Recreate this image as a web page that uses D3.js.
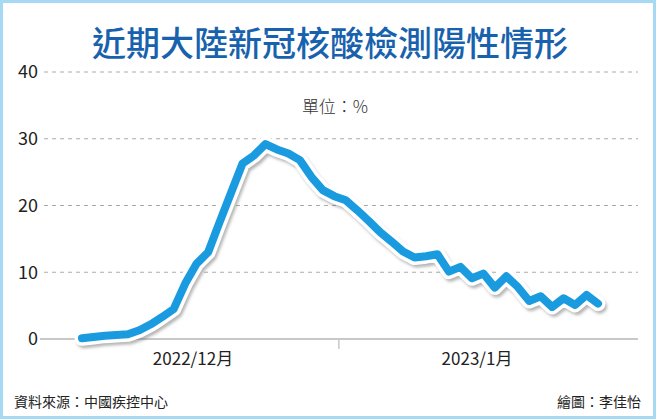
<!DOCTYPE html>
<html><head><meta charset="utf-8">
<script src="https://cdn.jsdelivr.net/npm/d3@7"></script>
<style>
html,body{margin:0;padding:0;background:#fff;}
svg{display:block;}
text{font-family:"Noto Sans CJK TC","Noto Sans",sans-serif;}
</style></head>
<body>
<svg id="chart" width="656" height="419"></svg>
<script>
const title = "近期大陸新冠核酸檢測陽性情形";
const unitLabel = "單位：%";
const sourceLabel = "資料來源：中國疾控中心";
const creditLabel = "繪圖：李佳怡";
const startDate = "2022-12-09";
const positiveRate = [0.1,0.3,0.5,0.6,0.7,1.3,2.2,3.3,4.5,8.3,11.3,13.0,17.5,21.9,26.3,27.5,29.2,28.4,27.8,26.8,24.3,22.3,21.4,20.8,19.3,17.7,16.0,14.6,13.1,12.2,12.4,12.7,10.1,10.8,9.1,9.8,7.7,9.4,7.8,5.7,6.4,4.8,6.1,5.1,6.6,5.3];
const yTicks = [0,10,20,30,40];
const monthTicks = ["2022-12-01","2023-01-01","2023-02-01"];
const monthLabels = [{label:"2022/12月", from:"2022-12-01"}, {label:"2023/1月", from:"2023-01-01"}];

const parse = d3.timeParse("%Y-%m-%d");
const t0 = parse(startDate);
const data = positiveRate.map((v,i)=>({date:d3.timeDay.offset(t0,i), value:v}));

const svg = d3.select("#chart");
const W=656,H=419;
svg.append("rect").attr("x",1.5).attr("y",1.5).attr("width",W-3).attr("height",H-3)
  .attr("fill","#fff").attr("stroke","#a6d9f3").attr("stroke-width",3);

const x = d3.scaleTime().domain([t0, d3.timeDay.offset(t0, positiveRate.length-1)]).range([82, 598]);
const y = d3.scaleLinear().domain([0,40]).range([339,72]);

svg.append("text").attr("x",330).attr("y",56).attr("text-anchor","middle")
  .attr("fill","#1862ad").attr("font-size",34).attr("font-weight",500).text(title);

// grid
const grid = svg.append("g");
grid.selectAll("line").data(yTicks.filter(d=>d>0)).join("line")
  .attr("x1",44).attr("x2",638).attr("y1",d=>y(d)).attr("y2",d=>y(d))
  .attr("stroke","#aaaaaa").attr("stroke-width",1).attr("stroke-dasharray","4,4");

// y axis labels
const yAxis = d3.axisLeft(y).tickValues(yTicks).tickSize(0).tickPadding(0).tickFormat(d3.format("d"));
const yg = svg.append("g").attr("transform","translate(38,0)").call(yAxis);
yg.select(".domain").remove();
yg.selectAll("text").attr("font-size",18).attr("fill","#222").attr("font-family","Roboto,'Noto Sans',sans-serif");

// x axis
svg.append("line").attr("x1",40).attr("x2",638).attr("y1",y(0)).attr("y2",y(0))
  .attr("stroke","#c8c8c8").attr("stroke-width",2);
const jan = parse(monthTicks[1]);
const tickX = x(jan) - 0.6*(x(d3.timeDay.offset(jan,1))-x(jan));
svg.append("line").attr("x1",tickX).attr("x2",tickX).attr("y1",y(0)).attr("y2",y(0)+10)
  .attr("stroke","#c8c8c8").attr("stroke-width",1.5);
svg.selectAll(".mlab").data(monthLabels).join("text").attr("class","mlab")
  .attr("x",(d,i)=> i===0 ? 193 : 477)
  .attr("y",365).attr("text-anchor","middle").attr("font-size",17).attr("fill","#222")
  .attr("font-family","Roboto,'Noto Sans CJK TC',sans-serif")
  .text(d=>d.label);

svg.append("text").attr("x",335).attr("y",113).attr("text-anchor","middle")
  .attr("font-size",17).attr("font-weight",300).attr("fill","#333").text(unitLabel);

// line
const line = d3.line().x(d=>x(d.date)).y(d=>y(d.value)).curve(d3.curveLinear);
const defs = svg.append("defs");
const f = defs.append("filter").attr("id","shadow").attr("x","-10%").attr("y","-10%").attr("width","120%").attr("height","130%");
f.append("feGaussianBlur").attr("stdDeviation",1.5);
svg.append("path").datum(data).attr("d",line).attr("fill","none")
  .attr("stroke","#6b6b6b").attr("stroke-opacity",0.5).attr("stroke-width",14)
  .attr("stroke-linejoin","round").attr("stroke-linecap","round")
  .attr("transform","translate(2,3)").attr("filter","url(#shadow)");
svg.append("path").datum(data).attr("d",line).attr("fill","none")
  .attr("stroke","#fff").attr("stroke-width",15)
  .attr("stroke-linejoin","round").attr("stroke-linecap","round");
svg.append("path").datum(data).attr("d",line).attr("fill","none")
  .attr("stroke","#1a9be0").attr("stroke-width",8)
  .attr("stroke-linejoin","round").attr("stroke-linecap","round");

svg.append("text").attr("x",14).attr("y",407).attr("font-size",14).attr("fill","#222").text(sourceLabel);
svg.append("text").attr("x",641).attr("y",407).attr("text-anchor","end").attr("font-size",14).attr("fill","#222").text(creditLabel);
</script>
</body></html>
